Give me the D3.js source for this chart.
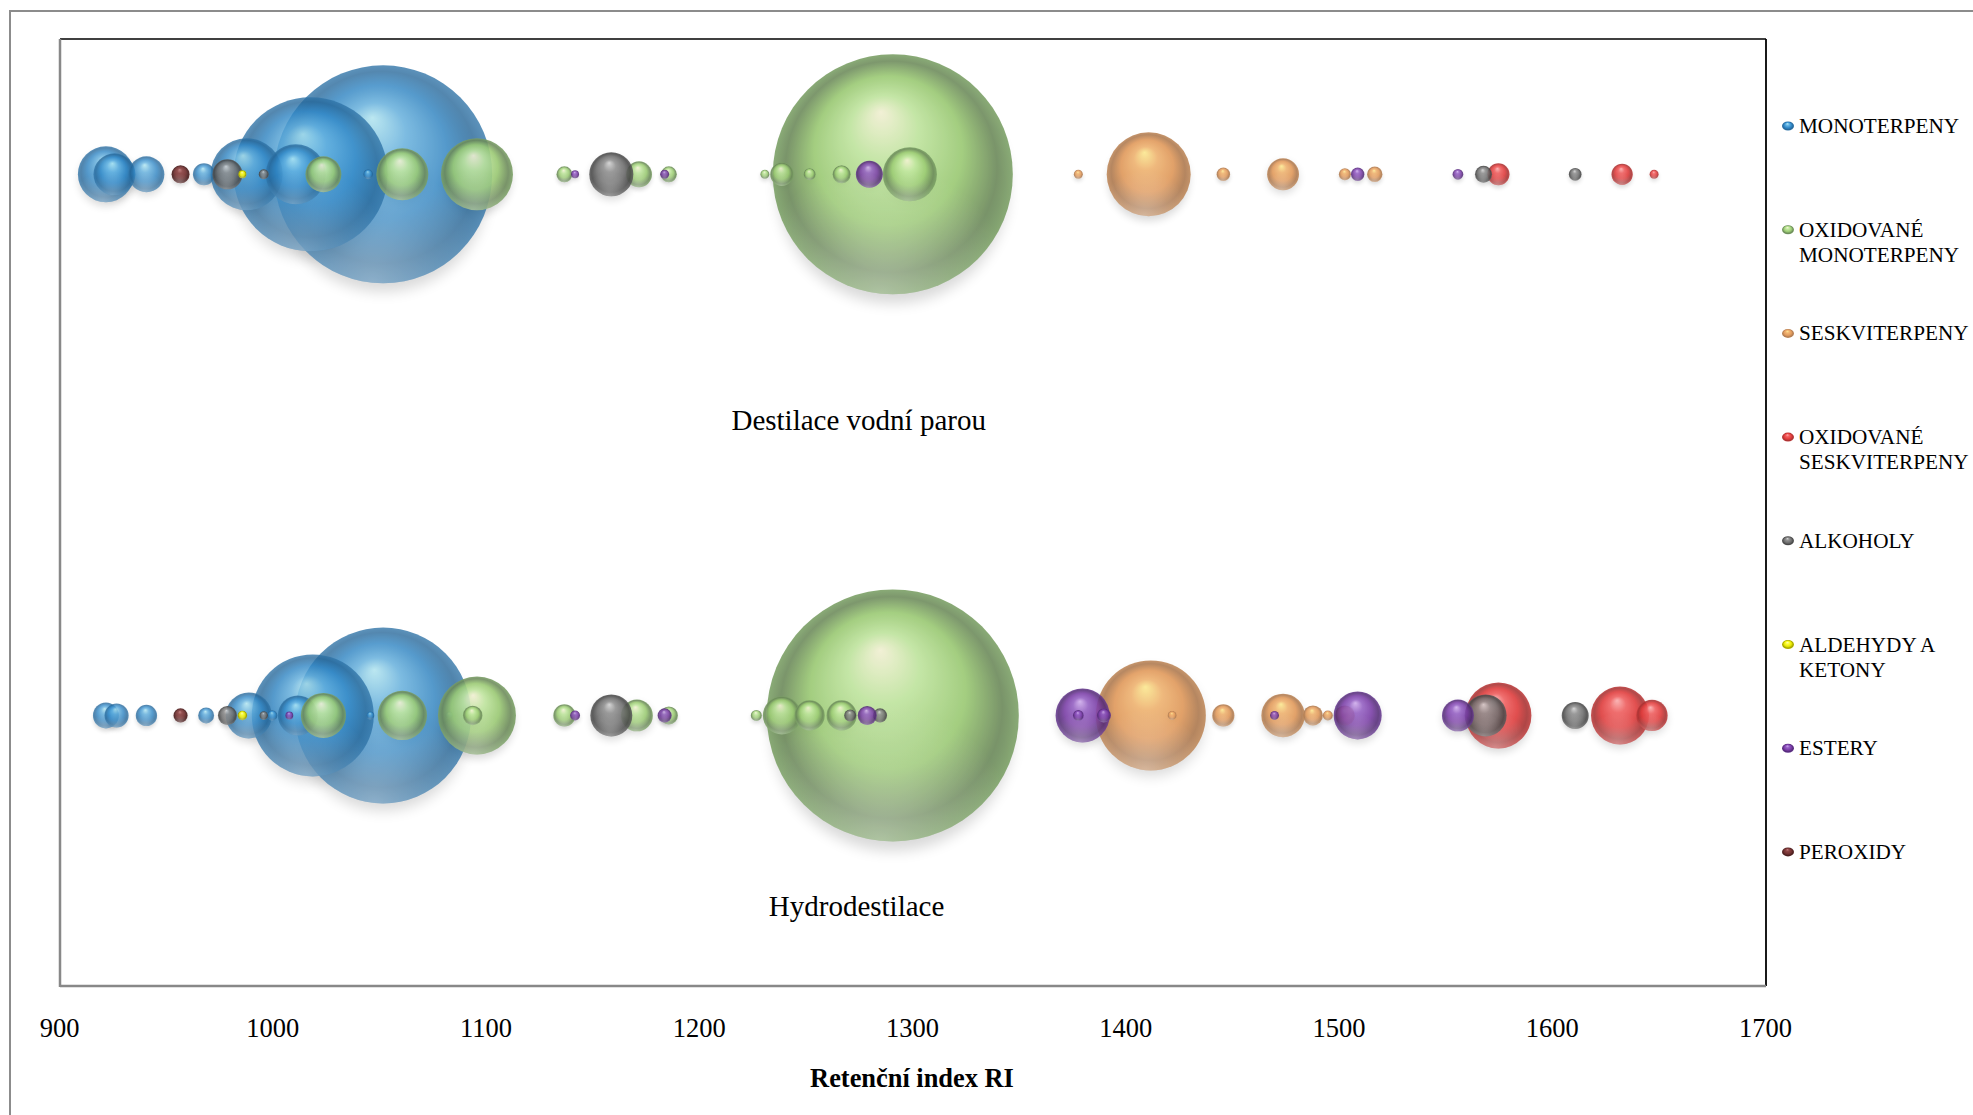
<!DOCTYPE html>
<html><head><meta charset="utf-8">
<script src="https://cdn.jsdelivr.net/npm/d3@7/dist/d3.min.js"></script>
<style>
body{margin:0;background:#fff}
svg{display:block}
text{font-family:"Liberation Serif","Times New Roman",serif;fill:#000}
</style>
</head><body>
<svg id="c" width="1973" height="1115"></svg>
<script>
// ---------- DATA ----------
const categories = ["MONOTERPENY","OXIDOVANÉ MONOTERPENY","SESKVITERPENY","OXIDOVANÉ SESKVITERPENY","ALKOHOLY","ALDEHYDY A KETONY","ESTERY","PEROXIDY"];
const legendLines = [["MONOTERPENY"],["OXIDOVANÉ","MONOTERPENY"],["SESKVITERPENY"],["OXIDOVANÉ","SESKVITERPENY"],["ALKOHOLY"],["ALDEHYDY A","KETONY"],["ESTERY"],["PEROXIDY"]];
const methods = ["Destilace vodní parou","Hydrodestilace"];
const methodY = [3, 1];
const xTicks = [900,1000,1100,1200,1300,1400,1500,1600,1700];
const xTitle = "Retenční index RI";

// Destilace vodní parou: retention index, relative content (%), class index
const steamRI    = [922,926,941,957,968,979,986,996,988,1011,1018,1052,1024,1045,1061,1096,1137,1142,1159,1172,1184,1186,1231,1239,1252,1267,1280,1299,1291,1378,1411,1446,1474,1503,1509,1517,1556,1568,1575,1611,1633,1648];
const steamPct   = [1.73,0.97,0.71,0.18,0.27,0.50,0.035,0.055,2.86,1.98,13.07,26.19,0.71,0.055,1.49,2.86,0.14,0.035,1.07,0.37,0.045,0.14,0.045,0.30,0.08,0.18,0.40,1.61,31.75,0.045,3.89,0.10,0.56,0.08,0.10,0.13,0.064,0.16,0.27,0.09,0.25,0.045];
const steamClass = [0,0,0,7,0,4,5,4,0,0,0,0,1,0,1,1,1,6,4,1,6,1,1,1,1,1,6,1,1,2,2,2,2,2,6,2,6,4,3,4,3,3];

// Hydrodestilace
const hydroRI    = [922,927,941,957,969,979,986,989,996,1000,1019,1012,1008,1052,1024,1046,1061,1083,1094,1096,1137,1142,1159,1171,1184,1186,1227,1239,1252,1267,1271,1279,1285,1291,1380,1378,1390,1412,1422,1446,1474,1470,1488,1495,1503,1509,1556,1569,1575,1611,1632,1647];
const hydroPct   = [0.37,0.32,0.25,0.11,0.14,0.20,0.05,1.17,0.04,0.06,8.20,0.88,0.035,17.07,1.12,0.035,1.34,0.035,0.21,3.35,0.27,0.055,0.97,0.56,0.11,0.18,0.067,0.80,0.50,0.50,0.08,0.20,0.11,35.0,1.61,0.064,0.11,6.67,0.045,0.27,1.04,0.045,0.22,0.055,0.22,1.27,0.56,0.97,2.40,0.40,1.85,0.54];
const hydroClass = [0,0,0,7,0,4,5,0,4,0,0,0,6,0,1,0,1,0,1,1,1,6,4,1,6,1,1,1,1,1,4,6,4,1,6,6,6,2,2,2,2,6,2,2,2,6,6,4,3,4,3,3];

// ---------- STYLE ----------
// highlight, light, base, dark, edge
const palette = [
  ["#b4ecf8","#64b4e4","#3088c8","#25679a","#2f74a8"],
  ["#f6f4d6","#c2e8a0","#9ccc74","#6c8a5a","#7aa064"],
  ["#ffec94","#f2b674","#e39c5e","#b07c52","#c08a5c"],
  ["#ffb0b0","#f36060","#e23c3c","#a83232","#c03a3a"],
  ["#d4d4d4","#929292","#707070","#484848","#5a5a5a"],
  ["#ffffc0","#ffff3c","#e8e800","#a0a000","#c0c000"],
  ["#d2aef0","#9660c6","#7a3ca8","#532a76","#673892"],
  ["#c07a7a","#8c4444","#743232","#4a1f1f","#5c2828"]
];
const opac = [0.78,0.88,0.9,0.88,0.88,0.95,0.86,0.92];

const W = 1973, H = 1115;
const plot = {l:60, r:1766, t:39, b:986};
const svg = d3.select("#c");
const defs = svg.append("defs");

palette.forEach((p,i)=>{
  const g = defs.append("radialGradient").attr("id","g"+i)
    .attr("cx","50%").attr("cy","50%").attr("r","50%")
    .attr("fx","45%").attr("fy","24%");
  [[0,p[0]],[0.28,p[1]],[0.62,p[2]],[0.88,p[3]],[1,p[4]]].forEach(s=>
    g.append("stop").attr("offset",s[0]).attr("stop-color",s[1]));
});
// bottom reflection overlay
const rg = defs.append("radialGradient").attr("id","refl")
  .attr("cx","45%").attr("cy","100%").attr("r","55%");
rg.append("stop").attr("offset",0).attr("stop-color","#fff").attr("stop-opacity",0.35);
rg.append("stop").attr("offset",0.6).attr("stop-color","#fff").attr("stop-opacity",0.12);
rg.append("stop").attr("offset",1).attr("stop-color","#fff").attr("stop-opacity",0);

[2,4,7].forEach((b,i)=>{
  defs.append("filter").attr("id","sh"+i).attr("x","-50%").attr("y","-50%").attr("width","200%").attr("height","200%")
    .append("feGaussianBlur").attr("stdDeviation",b);
});

const x = d3.scaleLinear().domain([900,1700]).range([59,1765]);
const y = d3.scaleLinear().domain([0,3.5]).range([plot.b, plot.t]);
const r = d3.scaleSqrt().domain([0,35]).range([0,126]);

// outer frame
svg.append("line").attr("x1",10).attr("x2",W).attr("y1",11).attr("y2",11).attr("stroke","#8c8c8c").attr("stroke-width",2);
svg.append("line").attr("x1",10).attr("x2",10).attr("y1",10).attr("y2",H).attr("stroke","#8c8c8c").attr("stroke-width",2);

// plot area border
svg.append("line").attr("x1",plot.l).attr("x2",plot.r).attr("y1",plot.t).attr("y2",plot.t).attr("stroke","#000").attr("stroke-width",1.5);
svg.append("line").attr("x1",plot.r).attr("x2",plot.r).attr("y1",plot.t).attr("y2",plot.b).attr("stroke","#000").attr("stroke-width",1.8);
svg.append("line").attr("x1",plot.l).attr("x2",plot.l).attr("y1",plot.t).attr("y2",plot.b+1).attr("stroke","#888").attr("stroke-width",2.5);
svg.append("line").attr("x1",plot.l).attr("x2",plot.r).attr("y1",plot.b).attr("y2",plot.b).attr("stroke","#888").attr("stroke-width",2.5);

// bubbles
const rows = [
  {ri:steamRI, pct:steamPct, cls:steamClass, yv:methodY[0]},
  {ri:hydroRI, pct:hydroPct, cls:hydroClass, yv:methodY[1]}
];
const shadowLayer = svg.append("g");
const bubbleLayer = svg.append("g");
rows.forEach(row=>{
  const pts = row.ri.map((v,i)=>({ri:v, pct:row.pct[i], c:row.cls[i], yv:row.yv}));
  pts.sort((a,b)=> a.c-b.c || b.pct-a.pct);
  pts.forEach(d=>{
    const rr = r(d.pct), cx = x(d.ri), cy = y(d.yv);
    const f = rr<15?0:(rr<50?1:2);
    shadowLayer.append("circle").attr("cx",cx).attr("cy",cy+rr*0.1+2).attr("r",rr*0.96)
      .attr("fill","#000").attr("opacity",0.15).attr("filter",`url(#sh${f})`);
    const g = bubbleLayer.append("g").attr("opacity",opac[d.c]);
    g.append("circle").attr("cx",cx).attr("cy",cy).attr("r",rr).attr("fill",`url(#g${d.c})`);
    g.append("circle").attr("cx",cx).attr("cy",cy).attr("r",rr).attr("fill","url(#refl)");
  });
});

// method labels
svg.append("text").attr("x",x(1275)).attr("y",430).attr("text-anchor","middle").attr("font-size",29).text(methods[0]);
svg.append("text").attr("x",x(1274)).attr("y",916).attr("text-anchor","middle").attr("font-size",29).text(methods[1]);

// x axis
const ax = svg.append("g").attr("transform","translate(0,1037)")
  .call(d3.axisBottom(x).tickValues(xTicks).tickSize(0).tickFormat(d3.format("d")));
ax.select(".domain").remove();
ax.selectAll("text").attr("y",0).attr("dy",null).attr("font-size",26.5)
  .attr("font-family","'Liberation Serif','Times New Roman',serif").attr("fill","#000");

svg.append("text").attr("x",(59+1765)/2).attr("y",1087).attr("text-anchor","middle")
  .attr("font-size",26.4).attr("font-weight","bold").text(xTitle);

// legend
const lg = svg.append("g");
categories.forEach((c,i)=>{
  const cy = 126 + i*103.7;
  lg.append("ellipse").attr("cx",1788).attr("cy",cy).attr("rx",6).attr("ry",4.5)
    .attr("fill",`url(#g${i})`);
  legendLines[i].forEach((t,j)=>{
    lg.append("text").attr("x",1799).attr("y",cy+7+j*25).attr("font-size",21.2).text(t);
  });
});
</script>
</body></html>
